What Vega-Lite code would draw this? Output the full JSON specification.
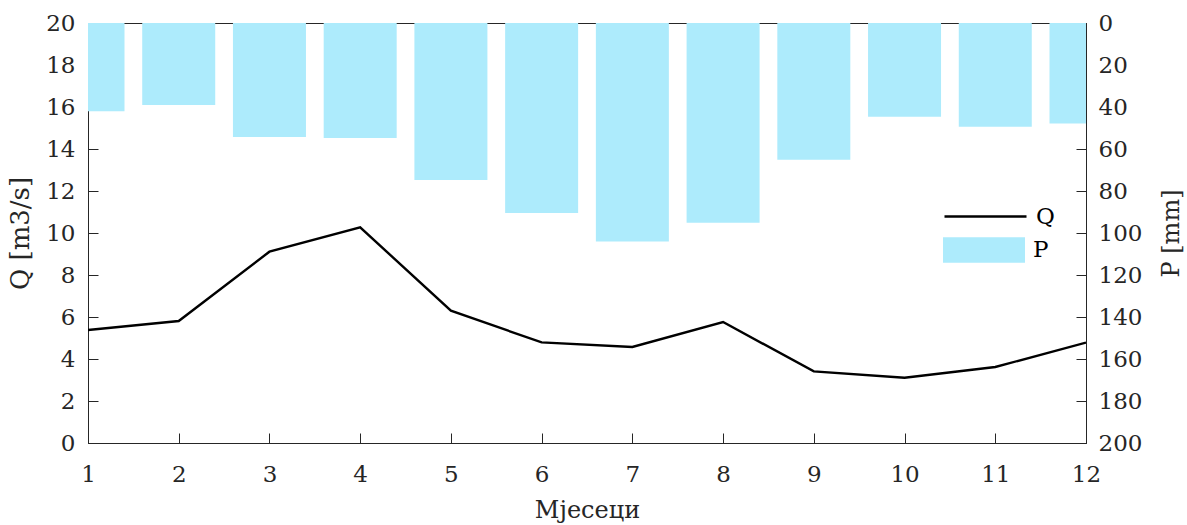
{
  "$schema": "https://vega.github.io/schema/vega-lite/v6.json",
  "autosize": {"type": "none"},
  "padding": {"left": 88, "top": 23, "right": 101, "bottom": 82},
  "width": 998,
  "height": 420,
  "background": "white",
  "config": {
    "view": {"stroke": "#262626", "strokeWidth": 1},
    "font": "DejaVu Serif",
    "axis": {
      "labelFont": "DejaVu Serif",
      "titleFont": "DejaVu Serif",
      "labelFontSize": 23,
      "titleFontSize": 24,
      "titleFontWeight": "normal",
      "labelColor": "#262626",
      "titleColor": "#262626",
      "domainColor": "#262626",
      "tickColor": "#262626",
      "tickSize": -10,
      "grid": false
    },
    "legend": {
      "labelFont": "DejaVu Serif",
      "labelFontSize": 23,
      "labelColor": "#000000"
    }
  },
  "data": {
    "values": [
      {"Month": 1, "Q": 5.38, "P": 42},
      {"Month": 2, "Q": 5.81, "P": 39},
      {"Month": 3, "Q": 9.11, "P": 54.3},
      {"Month": 4, "Q": 10.27, "P": 54.8},
      {"Month": 5, "Q": 6.3, "P": 74.8},
      {"Month": 6, "Q": 4.79, "P": 90.5},
      {"Month": 7, "Q": 4.57, "P": 104.1},
      {"Month": 8, "Q": 5.76, "P": 95.1},
      {"Month": 9, "Q": 3.41, "P": 65.1},
      {"Month": 10, "Q": 3.11, "P": 44.6},
      {"Month": 11, "Q": 3.62, "P": 49.4},
      {"Month": 12, "Q": 4.78, "P": 47.8}
    ]
  },
  "layer": [
    {
      "mark": {"type": "bar", "size": 73, "clip": true},
      "encoding": {
        "x": {
          "field": "Month", "type": "quantitative",
          "scale": {"domain": [1, 12], "nice": false, "zero": false, "padding": 0},
          "axis": {"orient": "bottom", "values": [1,2,3,4,5,6,7,8,9,10,11,12], "title": "Мјесеци", "labelPadding": 30, "titlePadding": 12, "labelFlush": false}
        },
        "y": {
          "field": "P", "type": "quantitative",
          "scale": {"domain": [0, 200], "reverse": true, "nice": false, "padding": 0},
          "axis": {"orient": "right", "values": [0,20,40,60,80,100,120,140,160,180,200], "title": "P [mm]", "titleAngle": 270, "labelPadding": 22, "titlePadding": 42}
        },
        "fill": {
          "datum": "P",
          "scale": {"domain": ["P"], "range": ["#adebfc"]},
          "legend": {
            "orient": "none", "legendX": 855, "legendY": 186, "title": null, "padding": 0,
            "symbolType": "M-1,-0.31H1V0.31H-1Z", "symbolSize": 6724, "symbolOpacity": 1,
            "symbolStrokeWidth": 0, "labelOffset": 8
          }
        }
      }
    },
    {
      "mark": {"type": "line", "strokeWidth": 2.4, "clip": true},
      "encoding": {
        "x": {
          "field": "Month", "type": "quantitative",
          "scale": {"domain": [1, 12], "nice": false, "zero": false, "padding": 0},
          "axis": {"orient": "top", "values": [1,2,3,4,5,6,7,8,9,10,11,12], "labels": false, "title": null, "domain": false}
        },
        "y": {
          "field": "Q", "type": "quantitative",
          "scale": {"domain": [0, 20], "nice": false},
          "axis": {"orient": "left", "values": [0,2,4,6,8,10,12,14,16,18,20], "title": "Q [m3/s]", "titleFontSize": 26, "labelPadding": 23, "titlePadding": 12}
        },
        "stroke": {
          "datum": "Q",
          "scale": {"domain": ["Q"], "range": ["#000000"]},
          "legend": {
            "orient": "none", "legendX": 855, "legendY": 151, "title": null, "padding": 0,
            "symbolType": "stroke", "symbolSize": 6724, "symbolStrokeWidth": 2.4, "labelOffset": 8
          }
        }
      }
    }
  ],
  "resolve": {"scale": {"y": "independent"}, "axis": {"x": "independent"}}
}
